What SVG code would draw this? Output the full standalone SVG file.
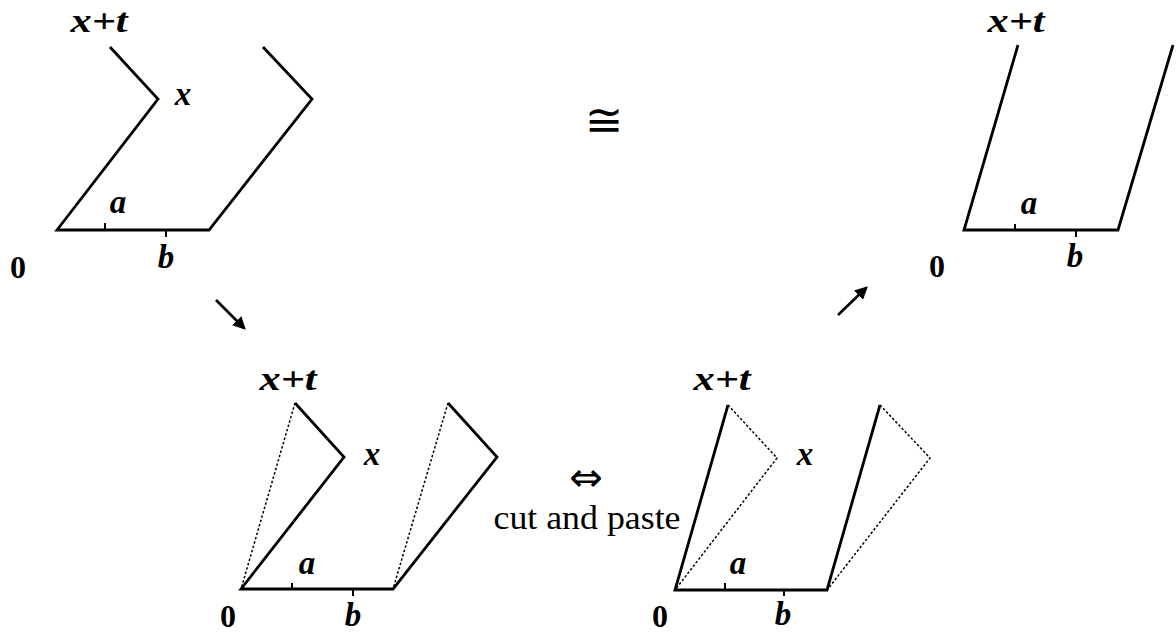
<svg xmlns="http://www.w3.org/2000/svg" width="1176" height="634" viewBox="0 0 1176 634">
<defs>
<style>
.s{fill:none;stroke:#000;stroke-width:2.8;stroke-linejoin:miter;stroke-linecap:butt}
.d{fill:none;stroke:#000;stroke-width:1.5;stroke-dasharray:2.5 2}
.t{fill:none;stroke:#000;stroke-width:2}
.m{font-family:"Liberation Serif",serif;font-style:italic;font-weight:bold;font-size:33px;fill:#000}
.z{font-family:"Liberation Serif",serif;font-weight:bold;font-size:32px;fill:#000}
.r{font-family:"Liberation Serif",serif;font-size:33px;fill:#000}
.sym{font-family:"DejaVu Sans",sans-serif;fill:#000}
</style>
<marker id="ah" viewBox="0 0 10 10" refX="8" refY="5" markerWidth="5" markerHeight="5" orient="auto">
<path d="M0,0 L10,5 L0,10 z" fill="#000"/>
</marker>
</defs>
<rect width="1176" height="634" fill="#fff"/>

<g id="fig-top-left">
<polyline class="s" points="110,47 158,99 57,230 209,230 312,99 263,47"/>
<line class="t" x1="105" y1="223" x2="105" y2="230"/>
<line class="t" x1="166" y1="230" x2="166" y2="237"/>
<text class="m" x="99" y="32" text-anchor="middle" textLength="57" lengthAdjust="spacingAndGlyphs">x+t</text>
<text class="m" x="183" y="105" text-anchor="middle">x</text>
<text class="m" x="118" y="213" text-anchor="middle">a</text>
<text class="m" x="166" y="268" text-anchor="middle">b</text>
<text class="z" x="18" y="278" text-anchor="middle">0</text>
</g>

<g id="fig-top-right">
<polyline class="s" points="1018,45 964,230 1118,230 1173,45"/>
<line class="t" x1="1015" y1="224" x2="1015" y2="230"/>
<line class="t" x1="1076" y1="230" x2="1076" y2="237"/>
<text class="m" x="1016" y="32" text-anchor="middle" textLength="57" lengthAdjust="spacingAndGlyphs">x+t</text>
<text class="m" x="1029" y="214" text-anchor="middle">a</text>
<text class="m" x="1075" y="267" text-anchor="middle">b</text>
<text class="z" x="937" y="277" text-anchor="middle">0</text>
</g>

<g id="fig-bottom-left">
<polyline class="s" points="295,403 344,457 241,589 393,589 497,457 448,403"/>
<line class="d" x1="295" y1="403" x2="241" y2="589"/>
<line class="d" x1="448" y1="403" x2="393" y2="589"/>
<line class="t" x1="292" y1="583" x2="292" y2="589"/>
<line class="t" x1="353" y1="589" x2="353" y2="596"/>
<text class="m" x="288" y="390" text-anchor="middle" textLength="57" lengthAdjust="spacingAndGlyphs">x+t</text>
<text class="m" x="372" y="465" text-anchor="middle">x</text>
<text class="m" x="307" y="574" text-anchor="middle">a</text>
<text class="m" x="353" y="626" text-anchor="middle">b</text>
<text class="z" x="228" y="627" text-anchor="middle">0</text>
</g>

<g id="fig-bottom-right">
<polyline class="s" points="728,405 675,590 827,590 880,405"/>
<polyline class="d" points="728,405 777,458 675,590"/>
<polyline class="d" points="880,405 930,458 827,590"/>
<line class="t" x1="725" y1="583" x2="725" y2="590"/>
<line class="t" x1="784" y1="590" x2="784" y2="596"/>
<text class="m" x="722" y="390" text-anchor="middle" textLength="57" lengthAdjust="spacingAndGlyphs">x+t</text>
<text class="m" x="805" y="465" text-anchor="middle">x</text>
<text class="m" x="738" y="574" text-anchor="middle">a</text>
<text class="m" x="783" y="625" text-anchor="middle">b</text>
<text class="z" x="660" y="627" text-anchor="middle">0</text>
</g>

<g id="cong">
<text class="sym" x="604" y="136" font-size="46" text-anchor="middle">≅</text>
</g>

<g id="cut-and-paste">
<text class="sym" x="586" y="491" font-size="40" text-anchor="middle">⇔</text>
<text class="r" x="587" y="529" text-anchor="middle" textLength="187" lengthAdjust="spacingAndGlyphs">cut and paste</text>
</g>

<g id="connectors">
<line x1="216" y1="300" x2="244" y2="328" stroke="#000" stroke-width="2.6" marker-end="url(#ah)"/>
<line x1="838" y1="315" x2="866" y2="288" stroke="#000" stroke-width="2.6" marker-end="url(#ah)"/>
</g>
</svg>
